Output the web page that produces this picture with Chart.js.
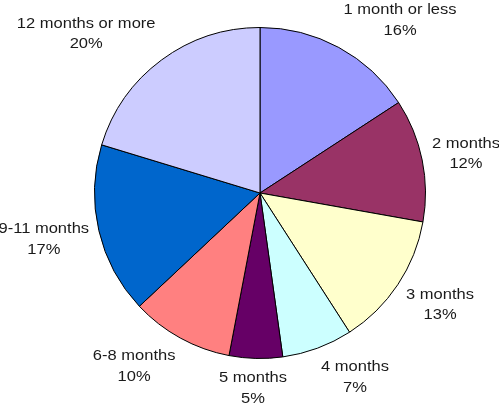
<!DOCTYPE html>
<html>
<head>
<meta charset="utf-8">
<script src="https://cdn.jsdelivr.net/npm/chart.js@4/dist/chart.umd.min.js"></script>
<style>
  html, body { margin: 0; padding: 0; background: #ffffff; }
  #wrap { width: 499px; height: 412px; }
</style>
</head>
<body>
<div id="wrap"><canvas id="c" width="499" height="412"></canvas></div>
<script>
const categories = ["1 month or less", "2 months", "3 months", "4 months", "5 months", "6-8 months", "9-11 months", "12 months or more"];
const shares = [15.8, 12.0, 13.1, 6.9, 5.2, 10.0, 16.7, 20.3];
const sliceColors = ["#9999FF", "#993366", "#FFFFCC", "#CCFFFF", "#660066", "#FF8080", "#0066CC", "#CCCCFF"];

const outsideLabels = {
  id: 'outsideLabels',
  afterDatasetsDraw(chart) {
    const ctx = chart.ctx;
    const meta = chart.getDatasetMeta(0);
    const data = chart.data.datasets[0].data;
    const total = data.reduce((a, b) => a + b, 0);
    const sx = 1.18, gap = 10, hh = 19, kx = 3, ky = 1.3;
    const clamp = v => Math.max(-1, Math.min(1, v));
    ctx.save();
    ctx.font = '14px "Liberation Sans", Arial, sans-serif';
    ctx.fillStyle = '#1a1a1a';
    ctx.textAlign = 'center';
    ctx.textBaseline = 'alphabetic';
    meta.data.forEach((arc, i) => {
      const p = arc.getProps(['x', 'y', 'startAngle', 'endAngle', 'outerRadius'], true);
      const a = (p.startAngle + p.endAngle) / 2;
      const ca = Math.cos(a), sa = Math.sin(a);
      const line1 = chart.data.labels[i];
      const line2 = Math.round(data[i] / total * 100) + '%';
      const w = Math.max(ctx.measureText(line1).width, ctx.measureText(line2).width) * sx;
      const hw = w / 2;
      const r = p.outerRadius + gap;
      const cx = p.x + r * ca + hw * clamp(kx * ca);
      const cy = p.y + r * sa + hh * clamp(ky * sa);
      [[line1, cy - 5.3], [line2, cy + 15.3]].forEach(([t, yy]) => {
        ctx.save();
        ctx.translate(cx, yy);
        ctx.scale(sx, 1);
        ctx.fillText(t, 0, 0);
        ctx.restore();
      });
    });
    ctx.restore();
  }
};

new Chart(document.getElementById('c'), {
  type: 'pie',
  data: {
    labels: categories,
    datasets: [{
      data: shares,
      backgroundColor: sliceColors,
      borderColor: '#000000',
      borderWidth: 1
    }]
  },
  options: {
    responsive: false,
    animation: false,
    layout: { padding: { left: 94, right: 73, top: 27, bottom: 53 } },
    plugins: {
      legend: { display: false },
      tooltip: { enabled: false }
    }
  },
  plugins: [outsideLabels]
});
</script>
</body>
</html>
